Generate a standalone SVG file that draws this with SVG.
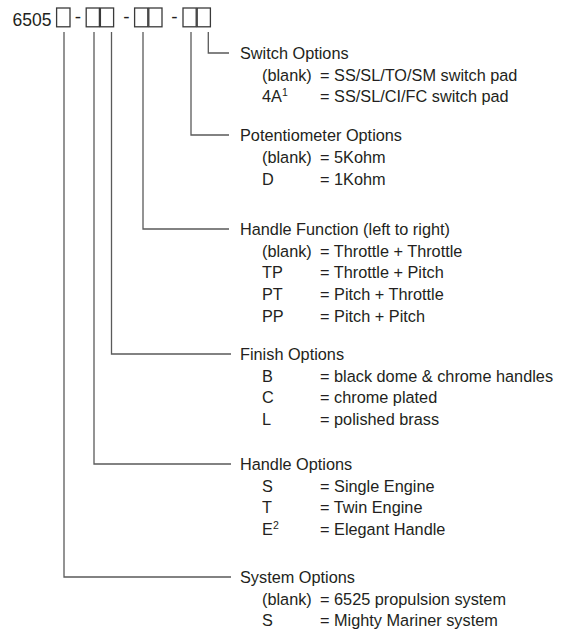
<svg xmlns="http://www.w3.org/2000/svg" width="569" height="634" viewBox="0 0 569 634">
<style>
text{font-family:"Liberation Sans",Arial,sans-serif;font-size:16.3px;fill:#231f20}
.sup{font-size:10.5px}
.box{fill:none;stroke:#3a3a3a;stroke-width:1.3}
.conn{fill:none;stroke:#5a5a5a;stroke-width:1.3}
</style>
<rect width="569" height="634" fill="#fff"/>
<g id="code">
<text x="12.5" y="26" style="font-size:17.5px">6505</text>
<rect class="box" x="56.6" y="8" width="13.4" height="18.8"/>
<text x="78" y="22.5" text-anchor="middle" style="font-size:19px">-</text>
<rect class="box" x="86.2" y="8" width="13.2" height="18.8"/>
<rect class="box" x="100.4" y="8" width="13.2" height="18.8"/>
<text x="126.5" y="22.5" text-anchor="middle" style="font-size:19px">-</text>
<rect class="box" x="134.6" y="8" width="13.2" height="18.8"/>
<rect class="box" x="148.8" y="8" width="13.2" height="18.8"/>
<text x="174.5" y="22.5" text-anchor="middle" style="font-size:19px">-</text>
<rect class="box" x="183" y="8" width="13.2" height="18.8"/>
<rect class="box" x="197.2" y="8" width="13.2" height="18.8"/>
</g>
<g id="connectors">
<path class="conn" d="M208.3 32V53H229"/>
<path class="conn" d="M191 32V135H229"/>
<path class="conn" d="M143 32V229H229"/>
<path class="conn" d="M111.5 32V354H231"/>
<path class="conn" d="M94 32V464H231"/>
<path class="conn" d="M64 32V577H231"/>
</g>
<g id="switch">
<text x="240" y="59">Switch Options</text>
<text x="262" y="80.5">(blank)</text><text x="320" y="80.5">= SS/SL/TO/SM switch pad</text>
<text x="262" y="102">4A<tspan class="sup" dy="-6">1</tspan></text><text x="320" y="102">= SS/SL/CI/FC switch pad</text>
</g>
<g id="potentiometer">
<text x="240" y="141">Potentiometer Options</text>
<text x="262" y="163">(blank)</text><text x="320" y="163">= 5Kohm</text>
<text x="262" y="184.5">D</text><text x="320" y="184.5">= 1Kohm</text>
</g>
<g id="handle-function">
<text x="240" y="235">Handle Function (left to right)</text>
<text x="262" y="256.5">(blank)</text><text x="320" y="256.5">= Throttle + Throttle</text>
<text x="262" y="278">TP</text><text x="320" y="278">= Throttle + Pitch</text>
<text x="262" y="300">PT</text><text x="320" y="300">= Pitch + Throttle</text>
<text x="262" y="321.5">PP</text><text x="320" y="321.5">= Pitch + Pitch</text>
</g>
<g id="finish">
<text x="240" y="360">Finish Options</text>
<text x="262" y="381.5">B</text><text x="320" y="381.5">= black dome &amp; chrome handles</text>
<text x="262" y="403">C</text><text x="320" y="403">= chrome plated</text>
<text x="262" y="424.5">L</text><text x="320" y="424.5">= polished brass</text>
</g>
<g id="handle">
<text x="240" y="470">Handle Options</text>
<text x="262" y="491.5">S</text><text x="320" y="491.5">= Single Engine</text>
<text x="262" y="513">T</text><text x="320" y="513">= Twin Engine</text>
<text x="262" y="534.5">E<tspan class="sup" dy="-6">2</tspan></text><text x="320" y="534.5">= Elegant Handle</text>
</g>
<g id="system">
<text x="240" y="583">System Options</text>
<text x="262" y="604.5">(blank)</text><text x="320" y="604.5">= 6525 propulsion system</text>
<text x="262" y="626">S</text><text x="320" y="626">= Mighty Mariner system</text>
</g>
</svg>
